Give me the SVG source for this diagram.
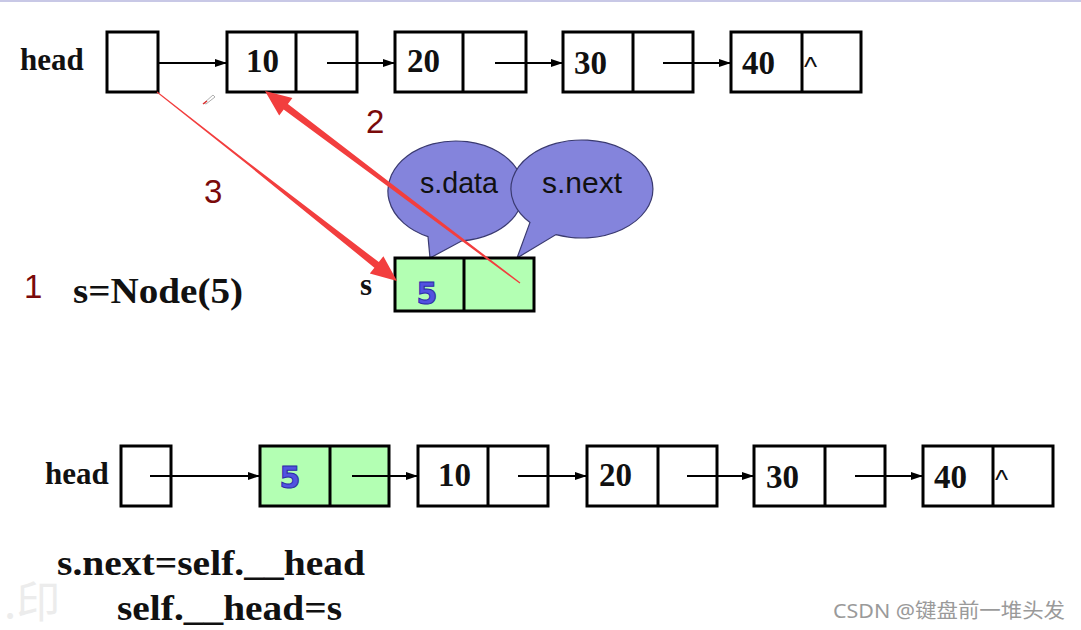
<svg xmlns="http://www.w3.org/2000/svg" width="1081" height="630" viewBox="0 0 1081 630">
<defs>
<style>
.box{fill:#fff;stroke:#000;stroke-width:3}
.gbox{fill:#b3ffb3;stroke:#000;stroke-width:3}
.div{stroke:#000;stroke-width:3}
.lbl{font-family:"Liberation Serif","Times New Roman",serif;font-weight:bold;fill:#111}
.num{font-family:"Liberation Serif","Times New Roman",serif;font-weight:bold;font-size:33px;fill:#111}
.car{font-family:"Liberation Sans",Arial,sans-serif;font-size:28px;fill:#111}
.step{font-family:"Liberation Sans",Arial,sans-serif;font-size:33px;fill:#7a0a0a}
.five{font-family:"DejaVu Sans",sans-serif;font-weight:bold;font-size:30px;fill:#5252e0;stroke:#2a2aa8;stroke-width:1}
.bub{fill:#8484dc;stroke:#3a3a70;stroke-width:1.2}
.btxt{font-family:"Liberation Sans",Arial,sans-serif;font-size:29px;fill:#111}
.conn{stroke:#000;stroke-width:2;fill:none}
.red{fill:#f23e3e}
</style>
<marker id="ah" markerUnits="userSpaceOnUse" markerWidth="12" markerHeight="10" refX="12" refY="5" orient="auto">
<path d="M0,1 L12,5 L0,9 Z" fill="#000"/>
</marker>
</defs>
<rect x="0" y="0" width="1081" height="630" fill="#fff"/>
<rect x="0" y="0" width="1081" height="2" fill="#c8c8e6"/>

<!-- top row -->
<g id="top-head">
<text class="lbl" x="20" y="70" font-size="31">head</text>
<rect class="box" x="107" y="32" width="51" height="60"/>
</g>
<g id="top-n10">
<rect class="box" x="227" y="32" width="130" height="60"/>
<line class="div" x1="296" y1="32" x2="296" y2="92"/>
<text class="num" x="246" y="72">10</text>
</g>
<g id="top-n20">
<rect class="box" x="395" y="32" width="131" height="60"/>
<line class="div" x1="463" y1="32" x2="463" y2="92"/>
<text class="num" x="407" y="72">20</text>
</g>
<g id="top-n30">
<rect class="box" x="563" y="32" width="130" height="60"/>
<line class="div" x1="633" y1="32" x2="633" y2="92"/>
<text class="num" x="574" y="74">30</text>
</g>
<g id="top-n40">
<rect class="box" x="731" y="32" width="130" height="60"/>
<line class="div" x1="802" y1="32" x2="802" y2="92"/>
<text class="num" x="742" y="74">40</text>
<text class="car" x="804" y="76">^</text>
</g>

<!-- speech bubbles -->
<g id="bubble-data">
<path class="bub" d="M428,236.6 L430,258 L462,240.8 A68,50 0 1 0 428,236.6 Z"/>
<text class="btxt" x="459" y="193" text-anchor="middle" textLength="78" lengthAdjust="spacingAndGlyphs">s.data</text>
</g>
<g id="bubble-next">
<path class="bub" d="M530,222.4 L517,258 L556,234.6 A71,49 0 1 0 530,222.4 Z"/>
<text class="btxt" x="582" y="193" text-anchor="middle" textLength="80" lengthAdjust="spacingAndGlyphs">s.next</text>
</g>

<!-- new node s -->
<g id="node-s">
<text class="lbl" x="360" y="295" font-size="31">s</text>
<rect class="gbox" x="395" y="258" width="139" height="53"/>
<line class="div" x1="464" y1="258" x2="464" y2="311"/>
<text class="five" x="427" y="304" text-anchor="middle">5</text>
</g>

<g id="labels">
<text class="step" x="24" y="298">1</text>
<text class="lbl" x="73" y="303" font-size="36" textLength="170" lengthAdjust="spacingAndGlyphs">s=Node(5)</text>
<text class="step" x="366" y="133">2</text>
<text class="step" x="204" y="203">3</text>
</g>

<!-- bottom row -->
<g id="bot-head">
<text class="lbl" x="45" y="484" font-size="31">head</text>
<rect class="box" x="121" y="446" width="50" height="60"/>
</g>
<g id="bot-n5">
<rect class="gbox" x="260" y="446" width="129" height="60"/>
<line class="div" x1="330" y1="446" x2="330" y2="506"/>
<text class="five" x="290" y="488" text-anchor="middle">5</text>
</g>
<g id="bot-n10">
<rect class="box" x="418" y="446" width="130" height="60"/>
<line class="div" x1="488" y1="446" x2="488" y2="506"/>
<text class="num" x="438" y="486">10</text>
</g>
<g id="bot-n20">
<rect class="box" x="587" y="446" width="130" height="60"/>
<line class="div" x1="658" y1="446" x2="658" y2="506"/>
<text class="num" x="599" y="486">20</text>
</g>
<g id="bot-n30">
<rect class="box" x="754" y="446" width="131" height="60"/>
<line class="div" x1="825" y1="446" x2="825" y2="506"/>
<text class="num" x="766" y="488">30</text>
</g>
<g id="bot-n40">
<rect class="box" x="923" y="446" width="130" height="60"/>
<line class="div" x1="993" y1="446" x2="993" y2="506"/>
<text class="num" x="934" y="488">40</text>
<text class="car" x="995" y="489">^</text>
</g>

<g id="code">
<text class="lbl" x="57" y="575" font-size="35" textLength="308" lengthAdjust="spacingAndGlyphs">s.next=self.__head</text>
<text class="lbl" x="117" y="620" font-size="35" textLength="225" lengthAdjust="spacingAndGlyphs">self.__head=s</text>
</g>

<!-- connectors -->
<g id="connectors">
<line class="conn" x1="158" y1="63" x2="227" y2="63" marker-end="url(#ah)"/>
<line class="conn" x1="327" y1="63" x2="395" y2="63" marker-end="url(#ah)"/>
<line class="conn" x1="495" y1="63" x2="563" y2="63" marker-end="url(#ah)"/>
<line class="conn" x1="663" y1="63" x2="731" y2="63" marker-end="url(#ah)"/>
<line class="conn" x1="150" y1="476" x2="260" y2="476" marker-end="url(#ah)"/>
<line class="conn" x1="352" y1="476" x2="418" y2="476" marker-end="url(#ah)"/>
<line class="conn" x1="518" y1="476" x2="587" y2="476" marker-end="url(#ah)"/>
<line class="conn" x1="687" y1="476" x2="754" y2="476" marker-end="url(#ah)"/>
<line class="conn" x1="855" y1="476" x2="923" y2="476" marker-end="url(#ah)"/>
<!-- red arrow 2 (s.next -> 10) -->
<path class="red" d="M265,91 L292.4,97.9 L287.9,103.9 L391.3,183.4 L520.4,282.6 L519.6,283.6 L388.7,187 L283.7,109.5 L279.2,115.5 Z"/>
<!-- red arrow 3 (head -> s) -->
<path class="red" d="M397,281 L369.8,273.5 L374.4,267.7 L249.3,166.1 L156.7,92.4 L157.3,91.6 L250.7,164.3 L378.8,262.1 L383.4,256.3 Z"/>
</g>

<!-- cursor mark -->
<path d="M204,103 L213,95 L215,97 L206,104 Z" fill="#fff" stroke="#999" stroke-width="0.8"/>
<path d="M203,104 L207,101" stroke="#e03030" stroke-width="1.5"/>

<!-- watermarks -->
<text x="4" y="618" font-family="'Noto Sans CJK SC',sans-serif" font-size="44" fill="#ececec">.印</text>
<text x="833" y="618" font-family="'Noto Sans','Noto Sans CJK SC',sans-serif" font-size="20" fill="#9a9a9a" textLength="232" lengthAdjust="spacingAndGlyphs">CSDN @键盘前一堆头发</text>
</svg>
